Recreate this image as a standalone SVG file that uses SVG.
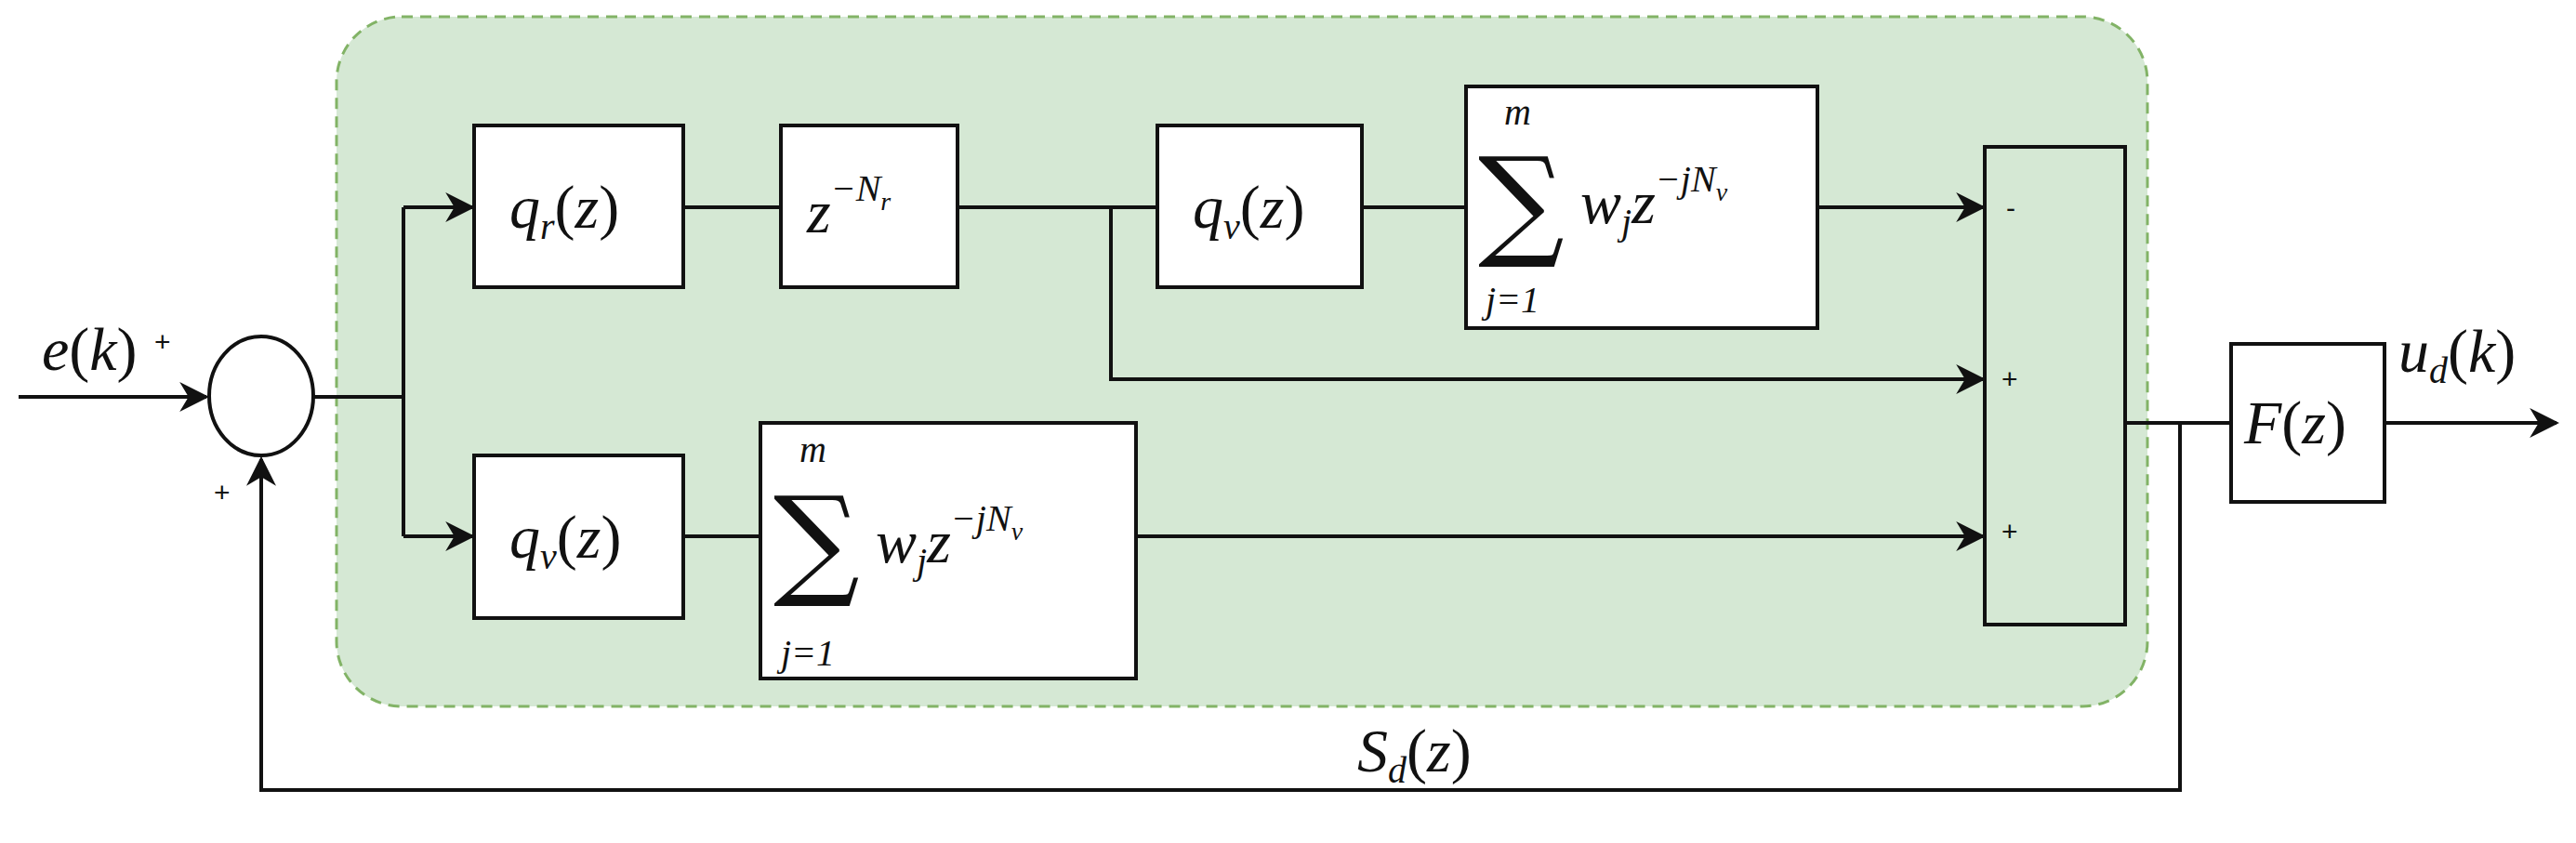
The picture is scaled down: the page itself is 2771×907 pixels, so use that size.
<svg xmlns="http://www.w3.org/2000/svg" width="2771" height="907" viewBox="0 0 2771 907">
<style>
.b{fill:#fff;stroke:#111;stroke-width:4}
.l{fill:none;stroke:#111;stroke-width:4}
.m{font-family:"Liberation Serif",serif;font-style:italic;font-size:66px;fill:#111}
.s{font-family:"Liberation Serif",serif;font-style:italic;font-size:40px;fill:#111}
.r{font-family:"Liberation Serif",serif;font-style:normal;fill:#111}
.sig{font-family:"DejaVu Serif",serif;font-size:130px;fill:#111}
.p{font-family:"Liberation Sans",sans-serif;font-size:30px;fill:#111}
</style>
<defs>
<marker id="A" viewBox="0 0 10 10" refX="9" refY="5" markerWidth="32" markerHeight="32" markerUnits="userSpaceOnUse" orient="auto"><path d="M0,0 L10,5 L0,10 L3,5z" fill="#111"/></marker></defs>
<rect x="362" y="18" width="1948" height="742" rx="70" fill="#d5e8d4" stroke="#82b366" stroke-width="3" stroke-dasharray="12 8"/>
<g id="connectors">
<path class="l" d="M20,427 H222" marker-end="url(#A)"/>
<path class="l" d="M338,427 H434 M434,223 V577"/>
<path class="l" d="M434,223 H508" marker-end="url(#A)"/>
<path class="l" d="M434,577 H508" marker-end="url(#A)"/>
<path class="l" d="M735,223 H840 M1030,223 H1245 M1465,223 H1577 M735,577 H818"/>
<path class="l" d="M1955,223 H2133" marker-end="url(#A)"/>
<path class="l" d="M1195,223 V408 H2133" marker-end="url(#A)"/>
<path class="l" d="M1222,577 H2133" marker-end="url(#A)"/>
<path class="l" d="M2286,455 H2400 M2345,455 V850 H281 V494" marker-end="url(#A)"/>
<path class="l" d="M2565,455 H2750" marker-end="url(#A)"/>
</g>
<g id="sum"><ellipse class="b" cx="281" cy="426" rx="56" ry="64"/></g>
<g id="qr"><rect class="b" x="510" y="135" width="225" height="174"/><text class="m" x="548" y="245">q<tspan class="s" dy="12">r</tspan><tspan class="r" dy="-12">(</tspan>z<tspan class="r">)</tspan></text></g>
<g id="delay"><rect class="b" x="840" y="135" width="190" height="174"/><text class="m" x="868" y="250">z<tspan class="s" dy="-34">−N</tspan><tspan style="font-size:28px" dy="10">r</tspan></text></g>
<g id="qv1"><rect class="b" x="1245" y="135" width="220" height="174"/><text class="m" x="1283" y="245">q<tspan class="s" dy="12">v</tspan><tspan class="r" dy="-12">(</tspan>z<tspan class="r">)</tspan></text></g>
<g id="sum1"><rect class="b" x="1577" y="93" width="378" height="260"/><text class="s" x="1618" y="134">m</text><text class="sig" x="1590" y="262">∑</text><text class="m" x="1700" y="240">w<tspan class="s" dy="12">j</tspan><tspan dy="-12">z</tspan><tspan class="s" dy="-34">−jN</tspan><tspan style="font-size:28px" dy="10">v</tspan></text><text class="s" x="1598" y="336">j=1</text></g>
<g id="qv2"><rect class="b" x="510" y="490" width="225" height="175"/><text class="m" x="548" y="600">q<tspan class="s" dy="12">v</tspan><tspan class="r" dy="-12">(</tspan>z<tspan class="r">)</tspan></text></g>
<g id="sum2"><rect class="b" x="818" y="455" width="404" height="275"/><text class="s" x="860" y="497">m</text><text class="sig" x="832" y="627">∑</text><text class="m" x="942" y="605">w<tspan class="s" dy="12">j</tspan><tspan dy="-12">z</tspan><tspan class="s" dy="-34">−jN</tspan><tspan style="font-size:28px" dy="10">v</tspan></text><text class="s" x="840" y="716">j=1</text></g>
<g id="junction"><rect x="2135" y="158" width="151" height="514" fill="none" stroke="#111" stroke-width="4"/><text class="p" x="2158" y="234">-</text><text class="p" x="2153" y="418">+</text><text class="p" x="2153" y="582">+</text></g>
<g id="F"><rect class="b" x="2400" y="370" width="165" height="170"/><text class="m" x="2414" y="477">F<tspan class="r">(</tspan>z<tspan class="r">)</tspan></text></g>
<text class="m" x="45" y="398">e<tspan class="r">(</tspan>k<tspan class="r">)</tspan></text>
<text class="p" x="166" y="378">+</text>
<text class="p" x="230" y="540">+</text>
<text class="m" x="2580" y="400">u<tspan class="s" dy="12">d</tspan><tspan class="r" dy="-12">(</tspan>k<tspan class="r">)</tspan></text>
<text class="m" x="1460" y="830">S<tspan class="s" dy="12">d</tspan><tspan class="r" dy="-12">(</tspan>z<tspan class="r">)</tspan></text>
</svg>
